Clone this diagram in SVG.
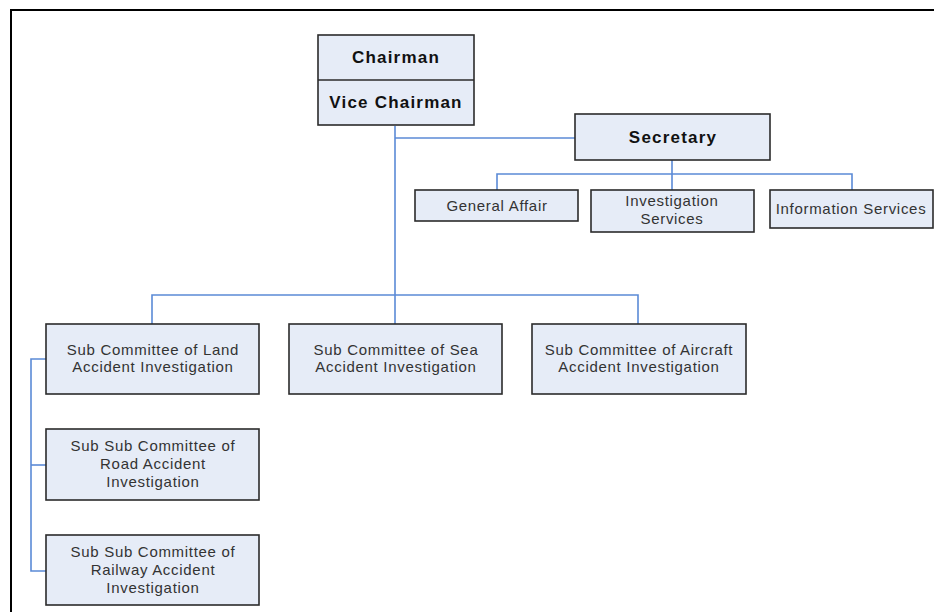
<svg xmlns="http://www.w3.org/2000/svg" width="934" height="612" viewBox="0 0 934 612">
<style>
.box{fill:#E6ECF7;stroke:#2b2b2b;stroke-width:1.6}
.conn{fill:none;stroke:#5B8AD6;stroke-width:1.6}
.b{font-family:"Liberation Sans",Arial,sans-serif;font-weight:bold;font-size:17px;letter-spacing:1.2px;fill:#111;text-anchor:middle}
.t{font-family:"Liberation Sans",Arial,sans-serif;font-size:15px;letter-spacing:0.7px;fill:#333;text-anchor:middle}
</style>
<rect width="934" height="612" fill="#fff"/>
<path d="M11 612 V10 H934" fill="none" stroke="#000" stroke-width="2"/>
<g id="connectors">
<path class="conn" d="M395 126 V295"/>
<path class="conn" d="M395 138 H575"/>
<path class="conn" d="M152 324 V295 H638 V324"/>
<path class="conn" d="M395 295 V324"/>
<path class="conn" d="M672 160 V190"/>
<path class="conn" d="M497 190 V174 H852 V190"/>
<path class="conn" d="M46 359 H31 V571 H46"/>
<path class="conn" d="M31 465 H46"/>
</g>
<g id="chairman">
<rect class="box" x="318" y="35" width="156" height="90"/>
<line x1="318" y1="80" x2="474" y2="80" stroke="#2b2b2b" stroke-width="1.6"/>
<text class="b" x="396" y="63">Chairman</text>
<text class="b" x="396" y="108">Vice Chairman</text>
</g>
<g id="secretary">
<rect class="box" x="575" y="114" width="195" height="46"/>
<text class="b" x="673" y="143">Secretary</text>
</g>
<g id="general-affair">
<rect class="box" x="415" y="190" width="163" height="31"/>
<text class="t" x="497" y="211">General Affair</text>
</g>
<g id="investigation-services">
<rect class="box" x="591" y="190" width="163" height="42"/>
<text class="t" x="672" y="206">Investigation</text>
<text class="t" x="672" y="224">Services</text>
</g>
<g id="information-services">
<rect class="box" x="770" y="190" width="163" height="38"/>
<text class="t" x="851" y="214">Information Services</text>
</g>
<g id="land">
<rect class="box" x="46" y="324" width="213" height="70"/>
<text class="t" x="153" y="355">Sub Committee of Land</text>
<text class="t" x="153" y="372">Accident Investigation</text>
</g>
<g id="sea">
<rect class="box" x="289" y="324" width="213" height="70"/>
<text class="t" x="396" y="355">Sub Committee of Sea</text>
<text class="t" x="396" y="372">Accident Investigation</text>
</g>
<g id="aircraft">
<rect class="box" x="532" y="324" width="214" height="70"/>
<text class="t" x="639" y="355">Sub Committee of Aircraft</text>
<text class="t" x="639" y="372">Accident Investigation</text>
</g>
<g id="road">
<rect class="box" x="46" y="429" width="213" height="71"/>
<text class="t" x="153" y="451">Sub Sub Committee of</text>
<text class="t" x="153" y="469">Road Accident</text>
<text class="t" x="153" y="487">Investigation</text>
</g>
<g id="railway">
<rect class="box" x="46" y="535" width="213" height="70"/>
<text class="t" x="153" y="557">Sub Sub Committee of</text>
<text class="t" x="153" y="575">Railway Accident</text>
<text class="t" x="153" y="593">Investigation</text>
</g>
</svg>
